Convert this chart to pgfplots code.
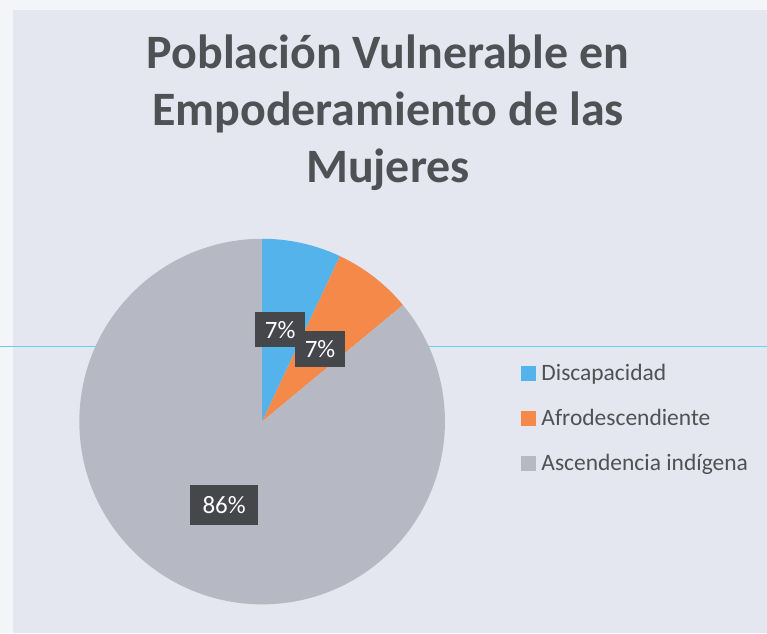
\documentclass[border=0pt]{standalone}
\usepackage{fontspec}
\setmainfont{Carlito}
\usepackage{pgfplots}
\usepackage{pgfplotstable}
\pgfplotsset{compat=1.18}
\definecolor{bg}{HTML}{E4E7EF}
\definecolor{edge}{HTML}{F4F5F8}
\definecolor{cblue}{HTML}{55B3EC}
\definecolor{corange}{HTML}{F5894A}
\definecolor{cgray}{HTML}{B6B9C4}
\definecolor{titlegray}{HTML}{505155}
\definecolor{labbg}{HTML}{45474B}
\pgfplotstableread{
label value
Discapacidad 7
Afrodescendiente 7
Ascendencia 86
}\piedata
\begin{document}
\begin{tikzpicture}
\begin{axis}[scale only axis, width=767pt, height=634pt,
  xmin=0, xmax=767, ymin=0, ymax=634, y dir=reverse,
  axis lines=none, clip=false,
  legend style={at={(axis cs:518,360)}, anchor=north west, draw=none, fill=none,
    font=\fontsize{23.5}{27}\selectfont, text=titlegray, row sep=23.5pt,
    legend cell align=left,
    /tikz/every odd column/.append style={column sep=4pt}},
  legend image code/.code={\fill[#1] (0pt,-7.4pt) rectangle (14pt,6.6pt);},
]
\fill[edge] (axis cs:0,0) rectangle (axis cs:767,634);
\fill[bg] (axis cs:13,10) rectangle (axis cs:767,634);
\draw[cyan!60, line width=0.8pt] (axis cs:0,347) -- (axis cs:767,347);
\pgfplotstablegetelem{0}{value}\of\piedata \let\va\pgfplotsretval
\pgfplotstablegetelem{1}{value}\of\piedata \let\vb\pgfplotsretval
\pgfplotstablegetelem{2}{value}\of\piedata \let\vc\pgfplotsretval
\pgfmathsetmacro\aA{90-3.6*\va}
\pgfmathsetmacro\aB{\aA-3.6*\vb}
\pgfmathsetmacro\aC{\aB-3.6*\vc}
\fill[cblue] (axis cs:262,422) -- ++(90:183pt) arc[start angle=90, end angle=\aA, radius=183pt] -- cycle;
\fill[corange] (axis cs:262,422) -- ++(\aA:183pt) arc[start angle=\aA, end angle=\aB, radius=183pt] -- cycle;
\fill[cgray] (axis cs:262,422) -- ++(\aB:183pt) arc[start angle=\aB, end angle=\aC, radius=183pt] -- cycle;
\addlegendimage{cblue}\addlegendentry{Discapacidad}
\addlegendimage{corange}\addlegendentry{Afrodescendiente}
\addlegendimage{cgray}\addlegendentry{Ascendencia indígena}
\node[fill=labbg, text=white, font=\fontsize{25}{29}\selectfont, minimum width=50pt, minimum height=35pt, inner sep=0pt] at (axis cs:280,330) {7\%};
\node[fill=labbg, text=white, font=\fontsize{25}{29}\selectfont, minimum width=50pt, minimum height=36pt, inner sep=0pt] at (axis cs:320,349) {7\%};
\node[fill=labbg, text=white, font=\fontsize{25}{29}\selectfont, minimum width=68pt, minimum height=40pt, inner sep=0pt] at (axis cs:224,506) {86\%};
\begin{scope}[every node/.style={anchor=base, font=\fontsize{48}{56}\selectfont\bfseries, text=titlegray, inner sep=0pt}]
\node at (axis cs:388,69) {Población Vulnerable en};
\node at (axis cs:388,126) {Empoderamiento de las};
\node at (axis cs:388,183) {Mujeres};
\end{scope}
\end{axis}
\end{tikzpicture}
\end{document}
